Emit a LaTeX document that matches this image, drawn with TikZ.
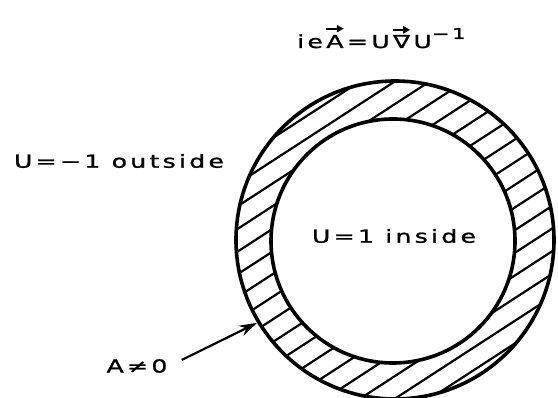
\documentclass[tikz,border=0pt]{standalone}
\usepackage{fontspec}
\newfontfamily\lab[LetterSpace=18,FakeStretch=1.4,FakeBold=1.2]{DejaVu Sans}
\usetikzlibrary{arrows.meta}
\begin{document}
\begin{tikzpicture}[x=1pt,y=-1pt,
  ring/.style={circle,draw,line width=3.6pt,inner sep=0pt},
  lbl/.style={font=\lab\fontsize{18}{20}\selectfont,inner sep=0pt},
  fpart/.style={lbl,anchor=base west},
  hatch/.style={line width=2.2pt},
  vecarrow/.style={line width=2pt,-{Triangle[length=7pt,width=7pt]}},
  pointer/.style={line width=2.2pt,-{Stealth[length=18pt,width=11pt]}}]
\useasboundingbox (0,0) rectangle (558,398);
% hatching of the annulus
\begin{scope}
  \clip (395,240) circle [radius=159];
  \foreach \k in {-11,...,11}
    \draw[hatch] ({395+\k*19*0.545-260*0.839},{240+\k*19*0.839+260*0.545})
              -- ({395+\k*19*0.545+260*0.839},{240+\k*19*0.839-260*0.545});
\end{scope}
\fill[white] (393,241) circle [radius=122];
\node[ring,minimum size=318pt] (outer) at (395,240) {};
\node[ring,minimum size=244pt] (inner) at (393,241) {};
\node[lbl] (ins) at (394,236) {U=1 inside};
\node[lbl] (outs) at (119,161) {U=−1 outside};
% formula
\node[fpart] (f1) at (297,48) {ie};
\node[fpart] (fA) at ([xshift=3pt]f1.base east) {A};
\node[fpart] (f2) at ([xshift=3pt]fA.base east) {=U};
\node[fpart] (fN) at ([xshift=3pt]f2.base east) {∇};
\node[fpart] (f3) at ([xshift=3pt]fN.base east) {U\raisebox{9pt}{\fontsize{15}{15}\selectfont −1}};
\draw[vecarrow] ([yshift=6pt]fA.north west) -- ([yshift=6pt]fA.north east);
\draw[vecarrow] ([yshift=5pt]fN.north west) -- ([yshift=5pt]fN.north east);
\node[lbl] (a0) at (137,366) {A≠0};
\draw[pointer] (a0.east) ++(14,-6) coordinate (s) (s) -- (outer.211);
\end{tikzpicture}
\end{document}
